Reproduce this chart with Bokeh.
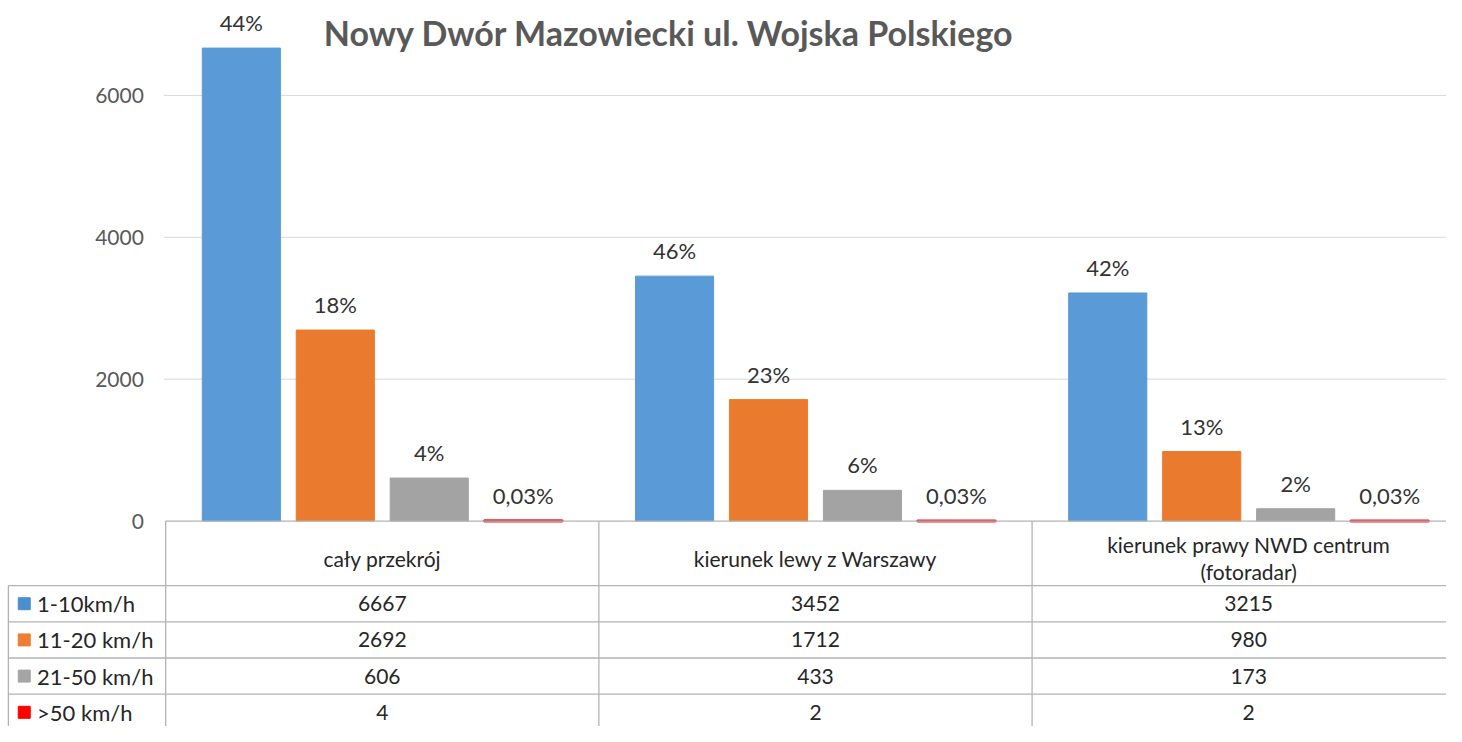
from bokeh.plotting import figure
from bokeh.models import LinearAxis, FixedTicker, Range1d
from bokeh.core.properties import value
from bokeh.embed import file_html
from bokeh.resources import INLINE

# ---------------- data ----------------
title = "Nowy Dwór Mazowiecki ul. Wojska Polskiego"
categories = ["cały przekrój", "kierunek lewy z Warszawy", "kierunek prawy NWD centrum\n(fotoradar)"]
series_names = ["1-10km/h", "11-20 km/h", "21-50 km/h", ">50 km/h"]
v_1_10 = [6667, 3452, 3215]
v_11_20 = [2692, 1712, 980]
v_21_50 = [606, 433, 173]
v_over_50 = [4, 2, 2]
pct_1_10 = ["44%", "46%", "42%"]
pct_11_20 = ["18%", "23%", "13%"]
pct_21_50 = ["4%", "6%", "2%"]
pct_over_50 = ["0,03%", "0,03%", "0,03%"]
y_ticks = [0, 2000, 4000, 6000]

series_values = [v_1_10, v_11_20, v_21_50, v_over_50]
series_pcts = [pct_1_10, pct_11_20, pct_21_50, pct_over_50]
bar_colors = ["#5a9ad6", "#ea7b2e", "#a3a3a3", "#e5202a"]
key_colors = ["#4a8fd0", "#ed7d31", "#a5a5a5", "#ff0000"]

# ---------------- layout ----------------
W, H = 1446, 726
REF_W, REF_H = 1462, 742
COL_W = 438.0          # width of one category column (reference px)
COL0 = 167.0           # left edge of first category column
ZERO = 532.0           # y of value 0
PX_PER_UNIT = 435.0 / 6000.0


def RX(rx):
    return -0.5 + (rx - COL0) / COL_W


def RY(ry):
    return (ZERO - ry) / PX_PER_UNIT


p = figure(width=W, height=H,
           x_range=Range1d(RX(0), RX(REF_W)), y_range=Range1d(RY(REF_H), RY(0)),
           x_axis_location=None, y_axis_location=None,
           toolbar_location=None, output_backend="svg",
           min_border=0, outline_line_color=None, background_fill_color="white",
           border_fill_color="white")
p.grid.visible = False

FONT = value("Lato")
TEXT_COLOR = "#262626"
LINE_COLOR = "#b3b3b3"
TABLE_FONT_SIZE = "21px"

# y axis (inside the frame, in the key column)
yaxis = LinearAxis(fixed_location=RX(149), ticker=FixedTicker(ticks=y_ticks),
                   bounds=(y_ticks[0], y_ticks[-1]))
yaxis.axis_line_color = None
yaxis.major_tick_line_color = None
yaxis.minor_tick_line_color = None
yaxis.major_tick_out = 0
yaxis.major_label_standoff = 4
yaxis.major_label_text_font = "Lato"
yaxis.major_label_text_font_size = "21px"
yaxis.major_label_text_color = "#595959"
p.add_layout(yaxis, "left")

# grid lines (only over the plot columns)
p.segment(x0=RX(COL0 - 2), x1=RX(REF_W), y0=y_ticks[1:], y1=y_ticks[1:],
          line_color="#d9d9d9", line_width=1)

# bars
STEP = 95.0 / COL_W
BAR_W = 79.0 / COL_W
LABEL_GAP = 26.0 / PX_PER_UNIT
for k, (vals, pcts, col) in enumerate(zip(series_values, series_pcts, bar_colors)):
    xs = [i + (k - 1.5) * STEP for i in range(len(categories))]
    lw = 3 if k == 3 else 1
    p.vbar(x=xs, top=vals, bottom=0, width=BAR_W, fill_color=col,
           line_color=col, line_width=lw)
    p.text(x=xs, y=[v + LABEL_GAP for v in vals], text=pcts,
           text_align="center", text_baseline="middle", text_font=FONT,
           text_font_size="22px", text_color="#333333")

# ---------------- data table ----------------
HEAD_TOP, HEAD_BOT = ZERO, 598.0
ROW_H = 37.0
n_rows = len(series_names)
row_lines = [HEAD_BOT + ROW_H * r for r in range(n_rows + 1)]
col_lines = [COL0 + COL_W * c for c in range(len(categories) + 1)]
TABLE_LEFT = 8.0

# horizontal lines
p.segment(x0=RX(COL0), x1=RX(REF_W), y0=RY(HEAD_TOP), y1=RY(HEAD_TOP),
          line_color=LINE_COLOR, line_width=1.3)
p.segment(x0=RX(TABLE_LEFT), x1=RX(REF_W), y0=[RY(r) for r in row_lines],
          y1=[RY(r) for r in row_lines], line_color=LINE_COLOR, line_width=1.3)
# vertical lines
p.segment(x0=RX(TABLE_LEFT), x1=RX(TABLE_LEFT), y0=RY(HEAD_BOT), y1=RY(REF_H + 10),
          line_color=LINE_COLOR, line_width=1.3)
p.segment(x0=[RX(c) for c in col_lines], x1=[RX(c) for c in col_lines],
          y0=RY(HEAD_TOP), y1=RY(REF_H + 10), line_color=LINE_COLOR, line_width=1.3)

# header texts
p.text(x=list(range(len(categories))), y=RY((HEAD_TOP + HEAD_BOT) / 2 + 5), text=categories,
       text_align="center", text_baseline="middle", text_font=FONT,
       text_font_size=TABLE_FONT_SIZE, text_color=TEXT_COLOR, text_line_height=1.1)

# rows
row_centers = [RY(HEAD_BOT + ROW_H * (r + 0.5)) for r in range(n_rows)]
for r, vals in enumerate(series_values):
    p.text(x=list(range(len(categories))), y=row_centers[r], text=[str(v) for v in vals],
           text_align="center", text_baseline="middle", text_font=FONT,
           text_font_size=TABLE_FONT_SIZE, text_color=TEXT_COLOR)

# key column
p.scatter(x=RX(24), y=row_centers, marker="square", size=12,
          fill_color=key_colors, line_color=key_colors)
p.text(x=RX(37), y=row_centers, text=series_names, text_align="left",
       text_baseline="middle", text_font=FONT, text_font_size="22px",
       text_color=TEXT_COLOR)

# title (moved down slightly so it is fully visible)
p.text(x=[RX(676)], y=[RY(33)], text=[title], text_align="center",
       text_baseline="alphabetic", text_font=FONT, text_font_style="bold",
       text_font_size="34px", text_color="#595959")

open("out.html", "w").write(file_html(p, INLINE))
